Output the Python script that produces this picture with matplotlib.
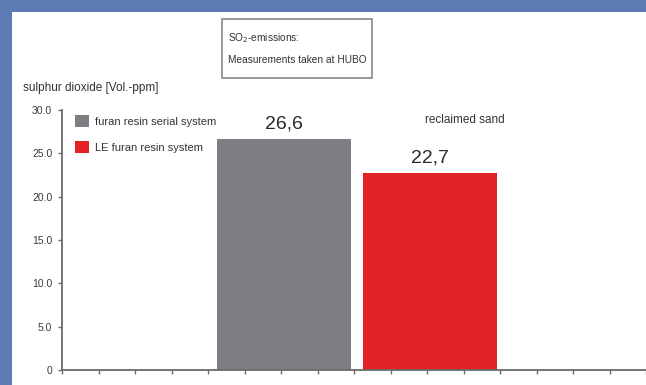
import numpy as np
import matplotlib.pyplot as plt
from matplotlib.patches import Rectangle

plt.rcParams['font.family'] = ['Liberation Sans', 'DejaVu Sans']

# SO2 emissions, reclaimed sand
systems = ['furan resin serial system', 'LE furan resin system']
so2_ppm = [26.6, 22.7]
bar_colors = ['#7c7e83', '#e32226']
bar_pos = [6.08, 10.08]
y_ticks = [0, 5, 10, 15, 20, 25, 30]
y_tick_labels = ['0', '5.0', '10.0', '15.0', '20.0', '25.0', '30.0']

fig = plt.figure(figsize=(6.46, 3.85), dpi=100, facecolor='white')
# blue frame on the left and top edges
fig.patches.append(Rectangle((0, 0), 12 / 646, 1, transform=fig.transFigure,
                             facecolor='#5e7cb3', edgecolor='none', zorder=-5))
fig.patches.append(Rectangle((0, 373 / 385), 1, 12 / 385, transform=fig.transFigure,
                             facecolor='#5e7cb3', edgecolor='none', zorder=-5))

ax = fig.add_axes([62 / 646, 15 / 385, 584 / 646, 260 / 385])
ax.set_facecolor('none')

bars = ax.bar(bar_pos, so2_ppm, width=3.67, color=bar_colors, label=systems, zorder=2)
ax.bar_label(bars, labels=[f'{v:.1f}'.replace('.', ',') for v in so2_ppm],
             padding=5, fontsize=14, color='#2a2a2a')

ax.set_xlim(0, 16)
ax.set_ylim(0, 30)
ax.set_xticks(np.arange(0, 17))
ax.set_xticklabels([])
ax.set_yticks(y_ticks)
ax.set_yticklabels(y_tick_labels, fontsize=7.5, color='#3a3a3a')

for s in ['top', 'right']:
    ax.spines[s].set_visible(False)
for s in ['left', 'bottom']:
    ax.spines[s].set_color('#6a6a6a')
    ax.spines[s].set_linewidth(1.3)
ax.tick_params(axis='y', length=3, width=1, color='#6a6a6a', pad=4)
ax.tick_params(axis='x', length=3, width=1, color='#6a6a6a')

ax.legend(loc='upper left', bbox_to_anchor=(0.005, 1.02), frameon=False, fontsize=8,
          handlelength=1.3, handleheight=1.3, labelspacing=1.3, handletextpad=0.55,
          labelcolor='#333333')

fig.text(465 / 646, 1 - 120 / 385, 'reclaimed sand', ha='center', va='center',
         fontsize=8.5, color='#333333')

fig.text(23 / 646, 1 - 88 / 385, 'sulphur dioxide [Vol.-ppm]', ha='left', va='center',
         fontsize=8.5, color='#333333')

# title box
fig.patches.append(Rectangle((222 / 646, 1 - 78 / 385), 150 / 646, 59 / 385,
                             transform=fig.transFigure, facecolor='white',
                             edgecolor='#888888', linewidth=1.2, zorder=1))
fig.text(228 / 646, 1 - 38 / 385, 'SO$_2$-emissions:', ha='left', va='center',
         fontsize=7.3, color='#333333')
fig.text(228 / 646, 1 - 60 / 385, 'Measurements taken at HUBO', ha='left', va='center',
         fontsize=7.3, color='#333333')

fig.savefig('out.png', dpi=100, facecolor=fig.get_facecolor())
